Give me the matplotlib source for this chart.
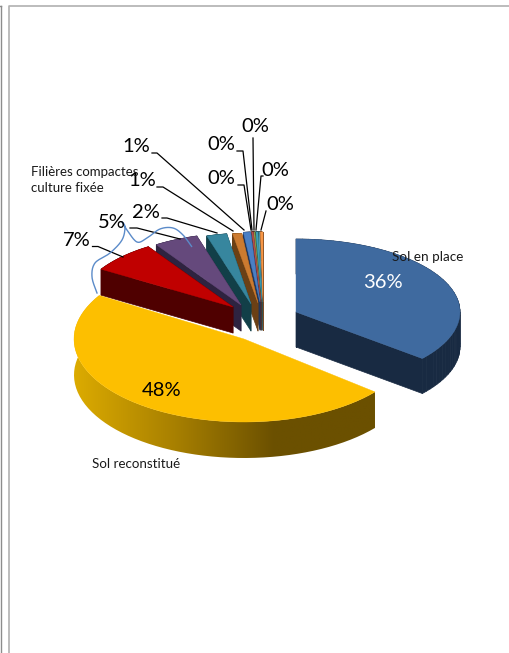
import numpy as np
import matplotlib
matplotlib.use('Agg')
import matplotlib.pyplot as plt
from matplotlib.collections import PolyCollection
from matplotlib.colors import LinearSegmentedColormap
from matplotlib.patches import Polygon

plt.rcParams['font.family'] = ['Lato', 'DejaVu Sans']

# shares of each slice, clockwise from 12 o'clock
values = [36, 47.8, 7, 4.6, 2.1, 0.9, 0.7, 0.15, 0.15, 0.2, 0.15, 0.25]
top_colors = ['#3f6a9f', '#fdbf00', '#c00000', '#65497c', '#37869e', '#cc7b30',
              '#4a7fc4', '#b5504c', '#8aa04c', '#3ca0b5', '#5fa8c0', '#f79646']
side_colors = ['#182a42', '#6b5000', '#4f0000', '#2e2340', '#123f48', '#6b4015',
               '#22365c', '#5a2826', '#46502a', '#1e505a', '#2e5460', '#7c4b23']

# where each slice sits on the page once pulled apart
apex_x = [296, 244, 233, 241, 251, 258, 260, 261, 261, 262, 262, 263]
apex_y = [312, 339, 307, 305, 304, 303, 302, 302, 302, 302, 302, 302]
rad_x = [164, 170, 155, 155, 155, 162, 165, 165, 165, 165, 165, 165]
rad_y = [73, 83, 72, 72, 71, 70, 70, 70, 70, 70, 70, 70]
depth = [35, 36, 26, 26, 27, 28, 28, 28, 28, 28, 28, 28]

# label text position, elbow start, leader end
label_x = [383, 162, 77, 112, 146, 142, 136, 221, 221, 255, 275, 280]
label_y = [283, 390, 241, 222, 213, 180, 147, 179, 145, 126, 170, 204]
leaders = {
    2: [(92.5, 246.5), (98, 246.5), (123, 257)],
    3: [(130, 228), (137, 228), (180, 239)],
    4: [(162, 218), (167, 218), (217, 233)],
    5: [(157, 187), (163, 187), (233, 231)],
    6: [(152, 153), (157, 153), (244, 230)],
    7: [(238, 185), (244, 185), (251, 230)],
    8: [(237, 151), (243, 151), (252, 230)],
    9: [(253, 138), (254, 230)],
    10: [(263, 176), (261, 176), (256, 230)],
    11: [(266, 211), (261, 230)],
}

scribble_x = [97, 92, 95, 110, 122, 125, 122, 127, 137, 147, 160, 173, 183, 192]
scribble_y = [293, 277, 263, 253, 240, 227, 222, 230, 242, 238, 229, 228, 235, 247]

names = ['Sol en place', 'Sol reconstitué', 'Filières compactes\nculture fixée']


def arc(i, a0, a1, n=60):
    t = np.radians(np.linspace(a0, a1, n))
    return np.column_stack([apex_x[i] + rad_x[i] * np.sin(t),
                            apex_y[i] - rad_y[i] * np.cos(t)])


def smooth(xs, ys, n=12):
    # catmull-rom through the hand drawn points
    p = np.column_stack([xs, ys])
    p = np.vstack([p[0], p, p[-1]])
    out = []
    for k in range(1, len(p) - 2):
        for t in np.linspace(0, 1, n, endpoint=False):
            out.append(0.5 * (2 * p[k] + (p[k + 1] - p[k - 1]) * t
                              + (2 * p[k - 1] - 5 * p[k] + 4 * p[k + 1] - p[k + 2]) * t ** 2
                              + (3 * p[k] - p[k - 1] - 3 * p[k + 1] + p[k + 2]) * t ** 3))
    return np.array(out)


fig = plt.figure(figsize=(5.09, 6.53), dpi=100)
ax = fig.add_axes([0, 0, 1, 1])
ax.set_xlim(0, 509)
ax.set_ylim(653, 0)
ax.axis('off')

# page frame
ax.plot([1.5, 1.5], [653, 6], color='#8c8c8c', lw=1)
ax.plot([0, 1.5], [5.5, 5.5], color='#8c8c8c', lw=1)
ax.plot([9, 9, 509], [653, 5.5, 5.5], color='#b0b0b0', lw=1.2)

edges = np.concatenate([[0], np.cumsum(values)]) * 360 / sum(values)

# back slices first, the big ones end up on top
for i in list(range(len(values) - 1, 1, -1)) + [1, 0]:
    rim = arc(i, edges[i], edges[i + 1])
    outline = np.vstack([[apex_x[i], apex_y[i]], rim])
    closed = np.vstack([outline, outline[:1]])
    quads = [[closed[k], closed[k + 1], closed[k + 1] + [0, depth[i]], closed[k] + [0, depth[i]]]
             for k in range(len(closed) - 1)]
    if i == 1:
        # the front wall of the yellow slice fades towards the right
        wall = np.vstack([rim, rim[::-1] + [0, depth[i]]])
        clip = Polygon(wall, closed=True, transform=ax.transData, fc='none', ec='none')
        ax.add_patch(clip)
        cmap = LinearSegmentedColormap.from_list('wall', ['#dcab00', '#a88000', '#6b5000', '#6b5000'])
        im = ax.imshow(np.linspace(0, 1, 256).reshape(1, -1), extent=(74, 375, 470, 280),
                       cmap=cmap, aspect='auto', zorder=2)
        im.set_clip_path(clip)
        ax.set_xlim(0, 509)
        ax.set_ylim(653, 0)
    else:
        ax.add_collection(PolyCollection(quads, facecolors=side_colors[i],
                                         edgecolors=side_colors[i], lw=0.5, zorder=2))
    ax.add_patch(Polygon(outline, closed=True, fc=top_colors[i], ec=top_colors[i],
                         lw=0.3, zorder=2))

for i, pts in leaders.items():
    xs, ys = zip(*pts)
    ax.plot(xs, ys, color='black', lw=0.9, zorder=4)

curve = smooth(scribble_x, scribble_y)
ax.plot(curve[:, 0], curve[:, 1], color='#5b8bc9', lw=1, zorder=5)

for i, v in enumerate(values):
    ax.text(label_x[i], label_y[i], f'{round(v)}%', fontsize=14.5, ha='center', va='center',
            color='white' if i == 0 else 'black', zorder=6)

ax.text(392, 257, names[0], fontsize=9.7, va='center', color='#1a1a1a', zorder=6)
ax.text(92, 464, names[1], fontsize=9.6, va='center', color='#1a1a1a', zorder=6)
ax.text(31, 180, names[2], fontsize=9.5, va='center', color='#1a1a1a', linespacing=1.35, zorder=6)

fig.savefig('out.png', dpi=100)
